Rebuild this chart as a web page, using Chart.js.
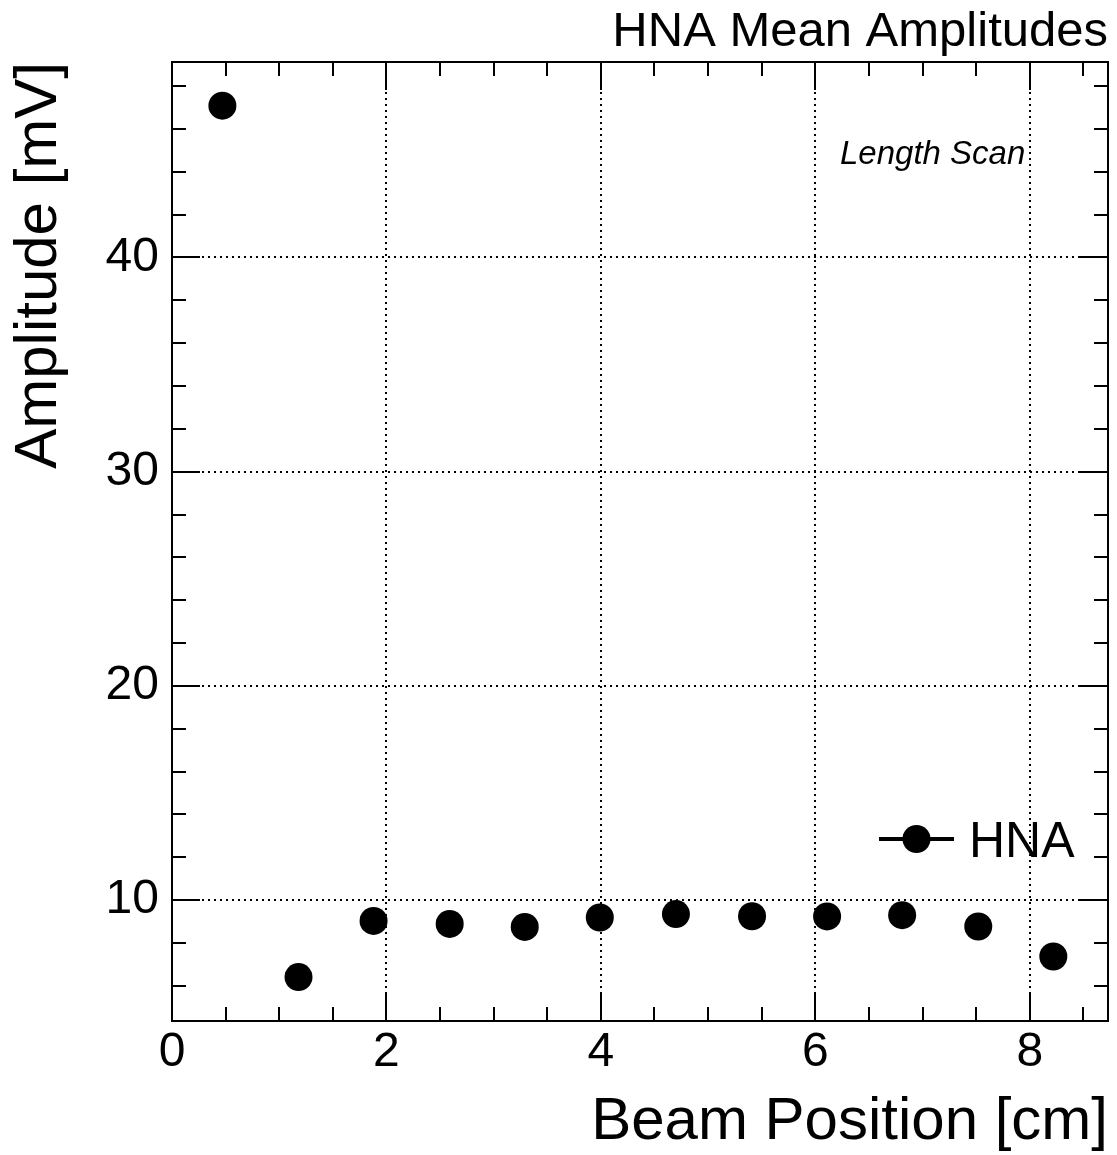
<!DOCTYPE html>
<html><head><meta charset="utf-8">
<script src="https://cdn.jsdelivr.net/npm/chart.js@4.4.0/dist/chart.umd.min.js"></script>
<style>html,body{margin:0;padding:0;background:#fff;}</style>
</head><body>
<canvas id="c" width="1117" height="1155"></canvas>
<script>
const chartTitle = 'HNA Mean Amplitudes';
const seriesLabel = 'HNA';
const annotationText = 'Length Scan';
const xTitle = 'Beam Position [cm]';
const yTitle = 'Amplitude [mV]';
const beamPositions = [0.47, 1.18, 1.88, 2.59, 3.29, 3.99, 4.70, 5.41, 6.11, 6.81, 7.52, 8.22];
const amplitudes = [47.08, 6.41, 9.03, 8.89, 8.75, 9.19, 9.35, 9.25, 9.24, 9.30, 8.77, 7.37];
const xTickValues = [0, 2, 4, 6, 8];
const yTickValues = [10, 20, 30, 40];
const xRange = [0, 8.73];
const yRange = [4.36, 49.12];
const xMinorStep = 0.5;
const yMinorStep = 2;

const FONT = "'Liberation Sans', Arial, Helvetica, sans-serif";

const rootFrame = {
  id: 'rootFrame',
  beforeDatasetsDraw(chart) {
    const {ctx, chartArea: a, scales: {x, y}} = chart;
    ctx.save();
    ctx.strokeStyle = '#000';
    ctx.lineWidth = 2;
    ctx.setLineDash([2, 4]);
    ctx.beginPath();
    x.ticks.forEach(t => {
      const px = Math.round(x.getPixelForValue(t.value));
      ctx.moveTo(px, a.top); ctx.lineTo(px, a.bottom);
    });
    y.ticks.forEach(t => {
      const py = Math.round(y.getPixelForValue(t.value));
      ctx.moveTo(a.left, py); ctx.lineTo(a.right, py);
    });
    ctx.stroke();
    ctx.restore();
  },
  afterDatasetsDraw(chart) {
    const {ctx, chartArea: a, scales: {x, y}} = chart;
    ctx.save();
    ctx.strokeStyle = '#000';
    ctx.lineWidth = 2;
    ctx.setLineDash([]);
    ctx.strokeRect(a.left, a.top, a.right - a.left, a.bottom - a.top);
    const majorLen = 28, minorLen = 14;
    ctx.beginPath();
    const xMajor = new Set(x.ticks.map(t => t.value));
    for (let v = Math.ceil(x.min / xMinorStep) * xMinorStep; v <= x.max + 1e-9; v += xMinorStep) {
      const vv = Math.round(v * 1000) / 1000;
      const len = xMajor.has(vv) ? majorLen : minorLen;
      const px = Math.round(x.getPixelForValue(vv));
      ctx.moveTo(px, a.bottom); ctx.lineTo(px, a.bottom - len);
      ctx.moveTo(px, a.top); ctx.lineTo(px, a.top + len);
    }
    const yMajor = new Set(y.ticks.map(t => t.value));
    for (let v = Math.ceil(y.min / yMinorStep) * yMinorStep; v <= y.max + 1e-9; v += yMinorStep) {
      const vv = Math.round(v * 1000) / 1000;
      const len = yMajor.has(vv) ? majorLen : minorLen;
      const py = Math.round(y.getPixelForValue(vv));
      ctx.moveTo(a.left, py); ctx.lineTo(a.left + len, py);
      ctx.moveTo(a.right, py); ctx.lineTo(a.right - len, py);
    }
    ctx.stroke();

    // legend
    const ds = chart.data.datasets[0];
    const ly = a.bottom - 182;
    ctx.lineWidth = 4;
    ctx.beginPath();
    ctx.moveTo(a.right - 229, ly); ctx.lineTo(a.right - 154, ly);
    ctx.stroke();
    ctx.fillStyle = '#000';
    ctx.beginPath();
    ctx.arc(a.right - 191.5, ly, ds.pointRadius, 0, Math.PI * 2);
    ctx.fill();
    ctx.font = '50px ' + FONT;
    ctx.textBaseline = 'middle';
    ctx.textAlign = 'left';
    ctx.fillText(ds.label, a.right - 139, ly + 4);

    // annotation
    ctx.font = 'italic 33px ' + FONT;
    ctx.textBaseline = 'alphabetic';
    ctx.fillText(annotationText, a.right - 268, a.top + 102);
    ctx.restore();
  }
};

new Chart(document.getElementById('c'), {
  type: 'scatter',
  data: {
    datasets: [{
      label: seriesLabel,
      data: beamPositions.map((bx, i) => ({x: bx, y: amplitudes[i]})),
      backgroundColor: '#000',
      borderColor: '#000',
      borderWidth: 0,
      pointRadius: 14,
      pointHoverRadius: 14,
      showLine: false
    }]
  },
  options: {
    responsive: false,
    animation: false,
    devicePixelRatio: 1,
    events: [],
    layout: {autoPadding: false, padding: {left: 0, right: 9, top: 0, bottom: 0}},
    plugins: {
      legend: {display: false},
      tooltip: {enabled: false},
      title: {
        display: true, text: chartTitle, align: 'end', color: '#000',
        font: {family: FONT, size: 49, weight: 'normal', lineHeight: 1},
        padding: {top: 8, bottom: 5}
      }
    },
    scales: {
      x: {
        type: 'linear', min: xRange[0], max: xRange[1],
        afterFit: s => { s.height = 134; s.paddingLeft = 0; s.paddingRight = 0; },
        afterBuildTicks: s => { s.ticks = xTickValues.map(v => ({value: v})); },
        grid: {display: false, drawTicks: false, tickLength: 0},
        border: {display: false},
        ticks: {color: '#000', font: {family: FONT, size: 48, lineHeight: 1}, padding: 8, maxRotation: 0, autoSkip: false, callback: v => String(v)},
        title: {display: true, text: xTitle, align: 'end', color: '#000', font: {family: FONT, size: 60, lineHeight: 1}, padding: {top: 0, bottom: 3}}
      },
      y: {
        type: 'linear', min: yRange[0], max: yRange[1],
        afterFit: s => { s.width = 172; s.paddingTop = 0; s.paddingBottom = 0; },
        afterBuildTicks: s => { s.ticks = yTickValues.map(v => ({value: v})); },
        grid: {display: false, drawTicks: false, tickLength: 0},
        border: {display: false},
        ticks: {color: '#000', font: {family: FONT, size: 48, lineHeight: 1}, padding: 13, autoSkip: false, callback: v => String(v)},
        title: {display: true, text: yTitle, align: 'end', color: '#000', font: {family: FONT, size: 60, lineHeight: 1}, padding: {top: 9, bottom: 0}}
      }
    }
  },
  plugins: [rootFrame]
});
</script>
</body></html>
